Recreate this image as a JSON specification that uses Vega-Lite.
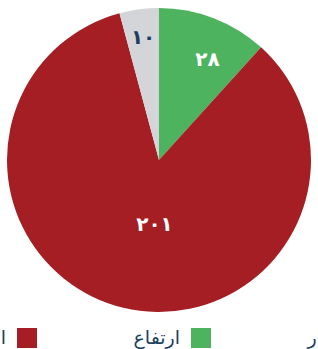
{
  "$schema": "https://vega.github.io/schema/vega-lite/v6.json",
  "width": 318,
  "height": 320,
  "autosize": {"type": "none"},
  "padding": {"left": 0, "top": 0, "right": 0, "bottom": 29},
  "background": "white",
  "config": {"view": {"stroke": null}},
  "data": {
    "values": [
      {"category": "ارتفاع", "value": 28, "label": "٢٨", "idx": 1},
      {"category": "انخفاض", "value": 201, "label": "٢٠١", "idx": 2},
      {"category": "استقرار", "value": 10, "label": "١٠", "idx": 3}
    ]
  },
  "resolve": {"scale": {"theta": "independent"}},
  "layer": [
    {
      "mark": {"type": "arc", "outerRadius": 152, "stroke": null},
      "encoding": {
        "theta": {"field": "value", "type": "quantitative", "stack": true},
        "order": {"field": "idx", "type": "quantitative"},
        "color": {
          "field": "category",
          "type": "nominal",
          "scale": {
            "domain": ["انخفاض", "ارتفاع", "استقرار"],
            "range": ["#a41e23", "#4db35f", "#d3d5d8"]
          },
          "legend": {
            "title": null,
            "orient": "none",
            "direction": "horizontal",
            "columns": 3,
            "legendX": 17,
            "legendY": 328,
            "padding": 0,
            "symbolType": "square",
            "symbolSize": 400,
            "symbolStrokeWidth": 0,
            "labelAlign": "right",
            "labelOffset": -31,
            "labelFont": "DejaVu Sans",
            "labelFontSize": 19,
            "labelColor": "#1c3d5e",
            "labelLimit": 200,
            "columnPadding": 96
          }
        }
      }
    },
    {
      "mark": {"type": "text", "font": "DejaVu Sans", "fontSize": 20, "fontWeight": "bold"},
      "encoding": {
        "theta": {
          "field": "value",
          "type": "quantitative",
          "stack": true,
          "scale": {"type": "linear", "zero": false, "domain": [0, 14, 128.5, 234, 239], "range": [0, 0.452, 3.211, 6.154, 6.2832]}
        },
        "order": {"field": "idx", "type": "quantitative"},
        "radius": {
          "field": "value",
          "type": "quantitative",
          "scale": {"type": "linear", "zero": false, "domain": [10, 28, 201], "range": [123.5, 111, 65]}
        },
        "text": {"field": "label"},
        "color": {
          "condition": {"test": "datum.value < 20", "value": "#1c3d5e"},
          "value": "white"
        }
      }
    }
  ]
}
